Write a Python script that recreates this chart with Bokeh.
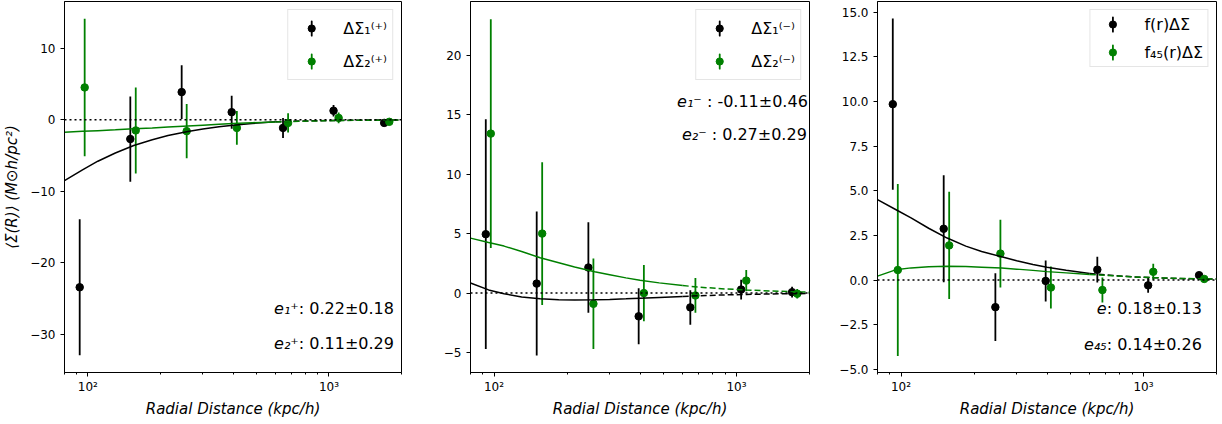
from bokeh.plotting import figure
from bokeh.layouts import row
from bokeh.models import (Range1d, FixedTicker, CustomJSTickFormatter, Span,
                          Legend, LegendItem, Label)
from bokeh.embed import file_html
from bokeh.resources import INLINE

FONT = "DejaVu Sans"
BLACK = "black"
GREEN = "#008000"

# ---------------- data ----------------
r_black = [92.5, 150, 245, 395, 645, 1045, 1695]
r_green = [97, 158, 257, 415, 677, 1097, 1780]

# panel 1  (+)
p1_y1 = [-23.4, -2.7, 3.85, 1.05, -1.15, 1.25, -0.45]
p1_e1 = [9.5, 5.95, 3.75, 2.3, 1.4, 0.8, 0.4]
p1_y2 = [4.5, -1.5, -1.6, -1.15, -0.45, 0.25, -0.3]
p1_e2 = [9.6, 6.0, 3.8, 2.35, 1.35, 0.75, 0.35]

# panel 2  (-)
p2_y1 = [4.95, 0.8, 2.15, -1.95, -1.2, 0.3, 0.08]
p2_e1 = [9.65, 6.05, 3.8, 2.35, 1.45, 0.83, 0.45]
p2_y2 = [13.4, 5.0, -0.9, 0.0, -0.2, 1.05, -0.05]
p2_e2 = [9.6, 6.0, 3.8, 2.36, 1.46, 0.9, 0.4]

# panel 3  f(r), f45(r)
p3_y1 = [9.85, 2.87, -1.52, -0.05, 0.58, -0.3, 0.27]
p3_e1 = [4.8, 3.0, 1.9, 1.15, 0.72, 0.42, 0.15]
p3_y2 = [0.56, 1.94, 1.48, -0.42, -0.56, 0.46, 0.06]
p3_e2 = [4.82, 3.0, 1.9, 1.18, 0.7, 0.45, 0.15]

# model curves (solid part and dashed extrapolation)
m_r_solid = [80, 95, 110, 130, 155, 185, 215, 260, 300, 350, 400, 480, 600]
m_r_dash = [600, 750, 900, 1100, 1400, 1700, 2000]

p1_m1_solid = [-8.5, -7.0, -5.8, -4.65, -3.6, -2.8, -2.2, -1.65, -1.3, -1.0, -0.78, -0.52, -0.3]
p1_m1_dash = [-0.3, -0.2, -0.14, -0.1, -0.06, -0.04, -0.03]
p1_m2_solid = [-1.75, -1.63, -1.53, -1.42, -1.28, -1.15, -1.03, -0.88, -0.77, -0.65, -0.55, -0.43, -0.31]
p1_m2_dash = [-0.31, -0.23, -0.17, -0.12, -0.08, -0.06, -0.04]

p2_m1_solid = [0.85, 0.27, -0.05, -0.32, -0.47, -0.56, -0.58, -0.56, -0.53, -0.48, -0.43, -0.36, -0.28]
p2_m1_dash = [-0.28, -0.2, -0.15, -0.11, -0.07, -0.05, -0.04]
p2_m2_solid = [4.62, 4.25, 3.95, 3.5, 2.97, 2.55, 2.2, 1.8, 1.55, 1.28, 1.08, 0.86, 0.63]
p2_m2_dash = [0.63, 0.46, 0.35, 0.26, 0.17, 0.12, 0.08]

p3_m1_solid = [4.5, 3.95, 3.48, 2.9, 2.35, 1.9, 1.6, 1.3, 1.08, 0.87, 0.72, 0.55, 0.36]
p3_m1_dash = [0.36, 0.25, 0.18, 0.13, 0.08, 0.06, 0.05]
p3_m2_solid = [0.22, 0.57, 0.68, 0.74, 0.77, 0.76, 0.72, 0.67, 0.61, 0.54, 0.47, 0.4, 0.31]
p3_m2_dash = [0.31, 0.24, 0.18, 0.13, 0.09, 0.07, 0.05]

x_range = (80, 2000)
x_major = [100, 1000]
x_minor = [80, 90, 200, 300, 400, 500, 600, 700, 800, 900, 2000]

panels = [
    dict(y1=p1_y1, e1=p1_e1, y2=p1_y2, e2=p1_e2,
         m1s=p1_m1_solid, m1d=p1_m1_dash, m2s=p1_m2_solid, m2d=p1_m2_dash,
         ylim=(-35.3, 16.5), yticks=[-30, -20, -10, 0, 10], dec=0,
         labels=["ΔΣ₁⁽⁺⁾", "ΔΣ₂⁽⁺⁾"],
         ann=[("e₁⁺", ": 0.22±0.18", 750, -26.3), ("e₂⁺", ": 0.11±0.29", 750, -31.2)],
         width=420, left=63, right=19, ylabel="⟨Σ(R)⟩ (M⊙h/pc²)",
         leg=dict(padding=5, spacing=7, label_height=26)),
    dict(y1=p2_y1, e1=p2_e1, y2=p2_y2, e2=p2_e2,
         m1s=p2_m1_solid, m1d=p2_m1_dash, m2s=p2_m2_solid, m2d=p2_m2_dash,
         ylim=(-6.67, 24.5), yticks=[-5, 0, 5, 10, 15, 20], dec=0,
         labels=["ΔΣ₁⁽⁻⁾", "ΔΣ₂⁽⁻⁾"],
         ann=[("e₁⁻ ", ": -0.11±0.46", 755, 16.1), ("e₂⁻ ", ": 0.27±0.29", 790, 13.3)],
         width=408, left=50, right=19, ylabel=None,
         leg=dict(padding=5, spacing=7, label_height=26)),
    dict(y1=p3_y1, e1=p3_e1, y2=p3_y2, e2=p3_e2,
         m1s=p3_m1_solid, m1d=p3_m1_dash, m2s=p3_m2_solid, m2d=p3_m2_dash,
         ylim=(-5.18, 15.6), yticks=[-5, -2.5, 0, 2.5, 5, 7.5, 10, 12.5, 15], dec=1,
         labels=["f(r)ΔΣ", "f₄₅(r)ΔΣ"],
         ann=[("e", ": 0.18±0.13", 705, -1.57), ("e₄₅", ": 0.14±0.26", 705, -3.63)],
         width=392, left=49, right=4, ylabel=None,
         leg=dict(padding=4, spacing=8, label_height=20)),
]


def make_panel(cfg):
    p = figure(width=cfg["width"], height=420, x_axis_type="log",
               x_range=Range1d(*x_range), y_range=Range1d(*cfg["ylim"]),
               output_backend="svg", toolbar_location=None,
               min_border_left=cfg["left"], min_border_right=cfg["right"],
               min_border_top=1, min_border_bottom=45)
    p.grid.visible = False
    p.outline_line_color = "black"
    p.outline_line_width = 1
    p.background_fill_color = "white"
    p.border_fill_color = "white"

    # axes
    p.xaxis.ticker = FixedTicker(ticks=x_major, minor_ticks=x_minor)
    p.xaxis.formatter = CustomJSTickFormatter(
        code="const m = {100: '10\u00b2', 1000: '10\u00b3'}; return m[tick] ?? '';")
    p.yaxis.ticker = FixedTicker(ticks=cfg["yticks"], minor_ticks=[])
    p.yaxis.formatter = CustomJSTickFormatter(
        code="return tick.toFixed(%d).replace('-', '\u2212');" % cfg["dec"])
    for ax in (p.xaxis[0], p.yaxis[0]):
        ax.axis_line_color = "black"
        ax.major_tick_line_color = "black"
        ax.minor_tick_line_color = "black"
        ax.major_tick_out = 4
        ax.major_tick_in = 0
        ax.minor_tick_out = 2
        ax.minor_tick_in = 0
        ax.major_label_text_font = FONT
        ax.major_label_text_font_size = "12px"
        ax.major_label_text_color = "black"
        ax.axis_label_text_font = FONT
        ax.axis_label_text_font_size = "15px"
        ax.axis_label_text_font_style = "italic"
        ax.axis_label_text_color = "black"
    p.xaxis.axis_label = "Radial Distance (kpc/h)"
    p.xaxis.major_label_standoff = 3
    p.xaxis.axis_label_standoff = 3
    p.yaxis.major_label_standoff = 5
    if cfg["ylabel"]:
        p.yaxis.axis_label = cfg["ylabel"]
        p.yaxis.axis_label_standoff = 6

    # zero line
    p.add_layout(Span(location=0, dimension="width", line_color="black",
                      line_dash="2 3", line_width=1.5))

    items = []
    for rr, yy, ee, col, lab in ((r_black, cfg["y1"], cfg["e1"], BLACK, cfg["labels"][0]),
                                 (r_green, cfg["y2"], cfg["e2"], GREEN, cfg["labels"][1])):
        lo = [a - b for a, b in zip(yy, ee)]
        hi = [a + b for a, b in zip(yy, ee)]
        p.segment(x0=rr, y0=lo, x1=rr, y1=hi, line_color=col, line_width=1.8)
        sc = p.scatter(rr, yy, size=7.5, color=col)
        # legend proxy: a thin, tall ellipse placed off-range -> vertical bar in legend
        proxy = p.ellipse(x=[x_range[0] / 10], y=[0], width=0.01, height=100,
                          width_units="screen", height_units="screen",
                          fill_alpha=0, line_color=col, line_width=1.8)
        items.append(LegendItem(label=lab, renderers=[proxy, sc]))

    for xs, ys, col, dash in ((m_r_solid, cfg["m1s"], BLACK, "solid"),
                              (m_r_dash, cfg["m1d"], BLACK, "6 3"),
                              (m_r_solid, cfg["m2s"], GREEN, "solid"),
                              (m_r_dash, cfg["m2d"], GREEN, "6 3")):
        p.line(xs, ys, line_color=col, line_width=1.5, line_dash=dash)

    lg = cfg["leg"]
    leg = Legend(items=items, location="top_right", margin=8,
                 padding=lg["padding"], spacing=lg["spacing"],
                 label_height=lg["label_height"], glyph_height=18, glyph_width=36,
                 label_standoff=14, label_text_font=FONT, label_text_font_size="16px",
                 label_text_color="black",
                 border_line_color="#cccccc", border_line_width=1,
                 background_fill_color="white", background_fill_alpha=0.8)
    p.add_layout(leg)

    for it, rest, xx, yy in cfg["ann"]:
        p.add_layout(Label(x=xx, y=yy, text=it, text_align="right", text_baseline="middle",
                           text_font=FONT, text_font_size="16px", text_font_style="italic",
                           text_color="black"))
        p.add_layout(Label(x=xx, y=yy, text=rest, text_align="left", text_baseline="middle",
                           text_font=FONT, text_font_size="16px", text_color="black"))
    return p


figs = [make_panel(c) for c in panels]
layout = row(*figs, spacing=0)

open("out.html", "w", encoding="utf-8").write(file_html(layout, INLINE))
